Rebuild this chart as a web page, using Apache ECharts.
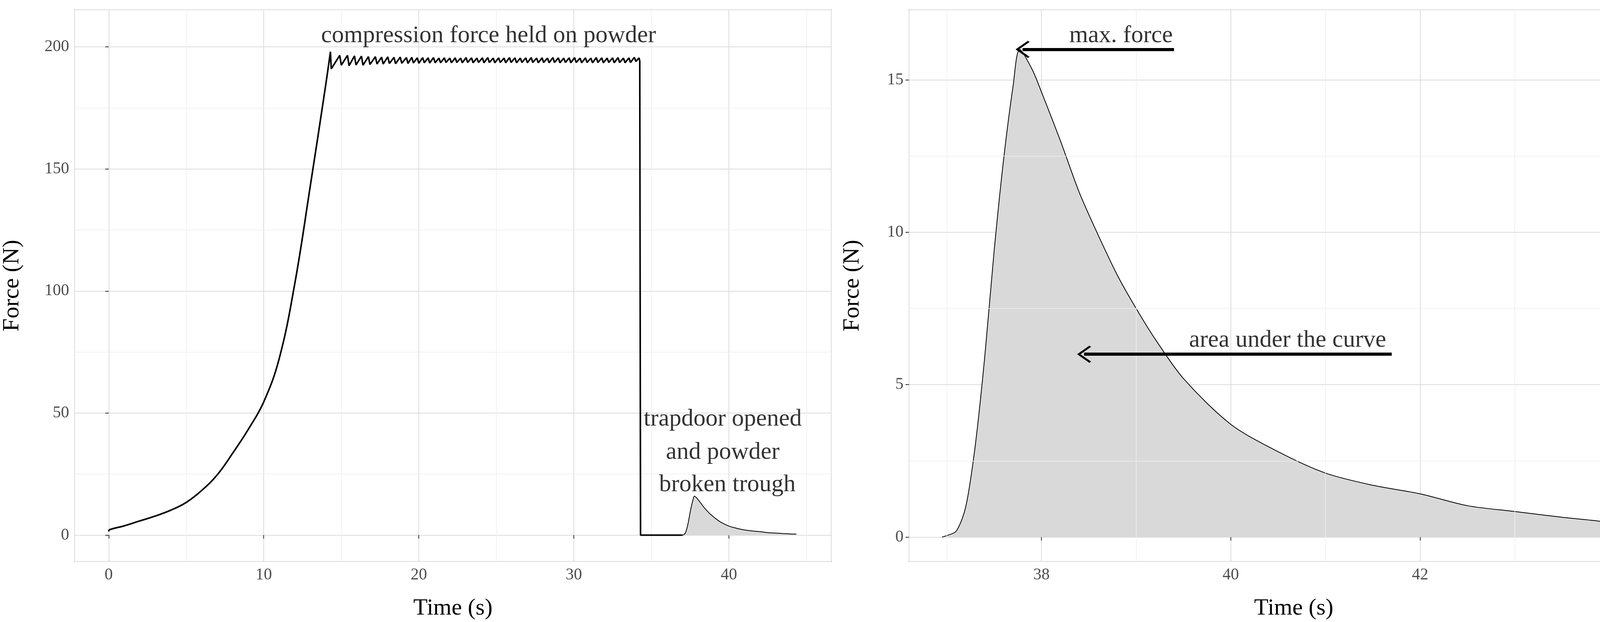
<!DOCTYPE html>
<html><head><meta charset="utf-8">
<script src="https://cdn.jsdelivr.net/npm/echarts@6/dist/echarts.min.js"></script>
<style>html,body{margin:0;padding:0;background:#fff}#c{width:4302px;height:1593px}</style>
</head><body><div id="c"></div>
<script>
// Compression phase (time s, force N)
const riseT = [0, 0.05, 1, 2, 3, 4, 5, 6, 7, 8, 9, 10, 11, 12, 13, 14, 14.3];
const riseF = [1.5, 2.2, 3.8, 5.8, 7.8, 10.2, 13.4, 18.3, 24.7, 33.6, 43.3, 54.6, 72.4, 103, 143, 184.6, 198];
// Holding plateau (sawtooth)
const holdT = [14.3,14.35,14.9,15.0,15.4,15.5,15.85,15.95,16.3,16.4,16.75,16.85,17.2,17.3,17.6,17.7,18.0,18.1,18.4,18.5,18.8,18.9,19.2,19.3,19.55,19.65,19.9,20.0,20.25,20.35,20.6,20.7,20.95,21.05,21.3,21.4,21.65,21.75,22.0,22.1,22.35,22.45,22.7,22.8,23.05,23.15,23.4,23.5,23.75,23.85,24.1,24.2,24.45,24.55,24.8,24.9,25.15,25.25,25.5,25.6,25.85,25.95,26.2,26.3,26.55,26.65,26.9,27.0,27.25,27.35,27.6,27.7,27.95,28.05,28.3,28.4,28.65,28.75,29.0,29.1,29.35,29.45,29.7,29.8,30.05,30.15,30.4,30.5,30.75,30.85,31.1,31.2,31.45,31.55,31.8,31.9,32.15,32.25,32.5,32.6,32.85,32.95,33.2,33.3,33.55,33.65,33.9,34.0,34.2,34.25,34.3];
const holdF = [198,191,196.5,192.5,196.5,192.3,196.3,192.6,196.2,192.5,196,192.8,196,193,195.8,193,195.9,193.2,195.7,193.1,195.8,193.3,195.6,193.2,195.7,193.4,195.5,193.3,195.6,193.5,195.5,193.4,195.6,193.5,195.4,193.5,195.5,193.6,195.4,193.5,195.5,193.6,195.4,193.5,195.6,193.6,195.5,193.5,195.4,193.6,195.5,193.5,195.6,193.6,195.4,193.5,195.5,193.6,195.4,193.5,195.6,193.6,195.5,193.5,195.4,193.6,195.5,193.5,195.6,193.6,195.4,193.5,195.5,193.6,195.4,193.5,195.6,193.6,195.5,193.5,195.4,193.6,195.5,193.5,195.6,193.6,195.4,193.5,195.5,193.6,195.4,193.5,195.6,193.6,195.5,193.5,195.4,193.6,195.5,193.5,195.6,193.6,195.4,193.5,195.5,193.6,195.7,194,195.5,194.2,194];
// Trapdoor opened
const gapT = [34.3, 34.3, 37.0];
const gapF = [194, 0, 0];
// Powder breaking through
const tailT = [36.95,37.0,37.1,37.2,37.3,37.4,37.5,37.6,37.7,37.77,37.9,38.0,38.2,38.4,38.6,38.8,39.0,39.2,39.5,40.0,40.5,41.0,41.5,42.0,42.5,43.0,43.5,43.9,44.0,44.3,44.35];
const tailF = [0,0.05,0.2,1.0,3.0,5.9,9.4,12.4,14.8,16.0,15.35,14.6,13.0,11.3,9.9,8.6,7.5,6.5,5.2,3.7,2.8,2.1,1.7,1.42,1.03,0.84,0.65,0.52,0.45,0.43,0.39];

const zip = (a,b) => a.map((v,i)=>[v,b[i]]);
const riseData = zip(riseT,riseF);
const holdData = zip(holdT,holdF).concat(zip(gapT,gapF));
const tailData = zip(tailT,tailF);

const FONT = 'Liberation Serif';
const txt = {fontFamily: FONT, fontSize: 62, color: '#000'};
const chevron = 'path://M0,0 L10,10 L8.6,11.4 L0,2.8 L-8.6,11.4 L-10,10 Z';

function xAxis(grid, min, max) {
  return {type:'value', gridIndex:grid, min, max, splitNumber:4,
    name:'Time (s)', nameLocation:'middle', nameGap:90,
    nameTextStyle:{fontFamily:FONT, fontSize:60, color:'#000'},
    axisLine:{show:false}, axisTick:{show:true, length:9, lineStyle:{color:'#333', width:2}},
    axisLabel:{showMinLabel:false, showMaxLabel:false, fontFamily:FONT, fontSize:42, color:'#4d4d4d', margin:14},
    splitLine:{show:true, lineStyle:{color:'#dcdcdc', width:2}}};
}
function yAxis(grid, min, max, gap) {
  return {type:'value', gridIndex:grid, min, max, splitNumber:4,
    name:'Force (N)', nameLocation:'middle', nameGap:gap,
    nameTextStyle:{fontFamily:FONT, fontSize:60, color:'#000'},
    axisLine:{show:false}, axisTick:{show:true, length:9, lineStyle:{color:'#333', width:2}},
    axisLabel:{showMinLabel:false, showMaxLabel:false, fontFamily:FONT, fontSize:42, color:'#4d4d4d', margin:14},
    splitLine:{show:true, lineStyle:{color:'#dcdcdc', width:2}}};
}
function minorLines(xs, ys) {
  return {silent:true, symbol:'none', label:{show:false},
    lineStyle:{color:'#eeeeee', width:1.5, type:'solid'},
    data: xs.map(v=>({xAxis:v})).concat(ys.map(v=>({yAxis:v})))};
}
function labelSeries(x, y, data) {
  return {type:'scatter', xAxisIndex:x, yAxisIndex:y, symbolSize:0, silent:true, z:10,
    data: data.map(d=>({value:[d[0],d[1]], label:{show:true, position:'inside', formatter:d[2], ...txt}}))};
}

const chart = echarts.init(document.getElementById('c'), null, {renderer:'canvas'});
chart.setOption({
  backgroundColor:'#fff', animation:false,
  grid:[
    {left:190, top:25, width:1938, height:1425, show:true, borderColor:'#333', borderWidth:2, backgroundColor:'transparent'},
    {left:2327, top:25, width:1970, height:1425, show:true, borderColor:'#333', borderWidth:2, backgroundColor:'transparent'}
  ],
  xAxis:[xAxis(0,-2.2,46.6), xAxis(1,36.6,44.73)],
  yAxis:[yAxis(0,-10.8,215.2,130), yAxis(1,-0.8,17.3,115)],
  series:[
    {type:'line', xAxisIndex:0, yAxisIndex:0, data:[], markLine:minorLines([5,15,25,35,45],[25,75,125,175])},
    {type:'line', xAxisIndex:1, yAxisIndex:1, data:[], markLine:minorLines([37,39,41,43],[2.5,7.5,12.5])},
    {type:'line', xAxisIndex:0, yAxisIndex:0, data:riseData, smooth:0.4, showSymbol:false, lineStyle:{color:'#000', width:4}, z:5},
    {type:'line', xAxisIndex:0, yAxisIndex:0, data:holdData, showSymbol:false, lineStyle:{color:'#000', width:4}, z:5},
    {type:'line', xAxisIndex:0, yAxisIndex:0, data:tailData, smooth:0.3, showSymbol:false, lineStyle:{color:'#000', width:2},
      areaStyle:{color:'#d9d9d9', opacity:1, origin:0}, z:4},
    {type:'line', xAxisIndex:1, yAxisIndex:1, data:tailData, smooth:0.3, showSymbol:false, lineStyle:{color:'#000', width:2},
      areaStyle:{color:'#d9d9d9', opacity:1, origin:0}, z:4,
      markLine:{silent:true, symbol:['none', chevron], symbolSize:[44,36], label:{show:false},
        lineStyle:{color:'#000', width:8, type:'solid'},
        data:[[{coord:[39.4,16.0]},{coord:[37.8,16.0]}],[{coord:[41.7,6.0]},{coord:[38.45,6.0]}]]}},
    labelSeries(0,0,[[24.5,204.5,'compression force held on powder'],[39.6,47.5,'trapdoor opened'],[39.6,33.8,'and powder'],[39.9,20.6,'broken trough']]),
    labelSeries(1,1,[[38.84,16.45,'max. force'],[40.6,6.45,'area under the curve']])
  ]
});
</script></body></html>
